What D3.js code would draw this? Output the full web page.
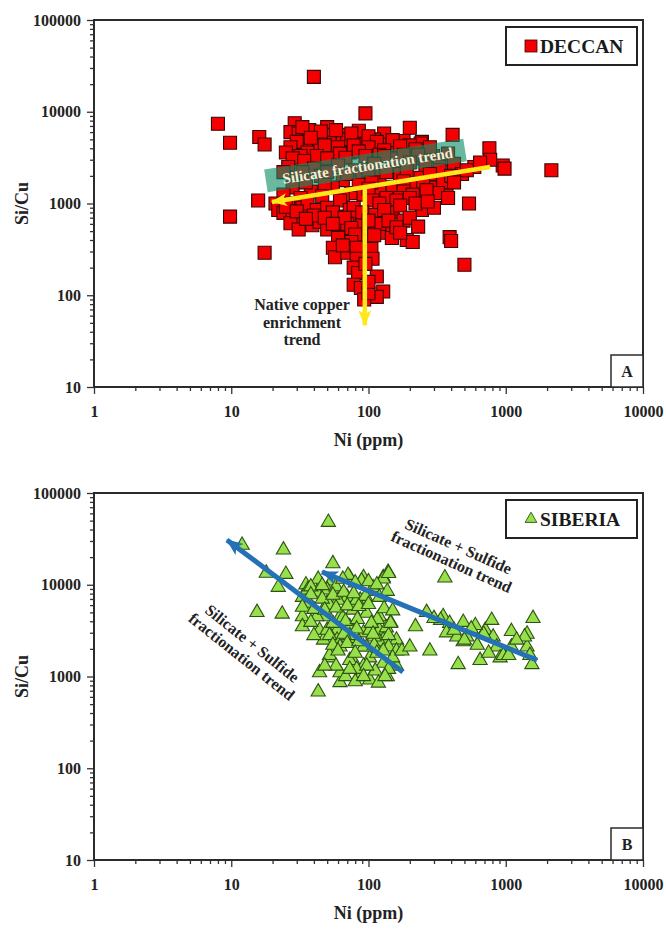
<!DOCTYPE html>
<html>
<head>
<meta charset="utf-8">
<script src="https://cdn.jsdelivr.net/npm/d3@7"></script>
<style>
  body { margin: 0; background: #fff; }
  svg { display: block; }
  text { font-family: "Liberation Serif", "Times New Roman", serif; font-weight: bold; }
</style>
</head>
<body>
<svg id="chart" width="666" height="929"></svg>
<script>
// ---- Data ----------------------------------------------------------------
const niTicks = [1, 10, 100, 1000, 10000];
const ratioTicks = [10, 100, 1000, 10000, 100000];

// Deccan basalts: [Ni (ppm), Si/Cu]
const deccanPoints = [
  [40,24000],[8,7400],[9.8,4600],[16,5300],[17.5,4400],[9.8,720],[15.7,1080],[17.5,290],
  [2150,2300],[540,1000],[500,215],[390,430],[400,390],[760,4000],[950,2600],[980,2400],[770,3000],
  [200,6700],[410,5600],[95,9600],[130,5800],
  [29,7500],[27,6000],[31,5800],[37,6300],[50,6800],[50,5600],[62,5600],[65,4600],[52,4600],[42,4700],
  [35,4700],[30,4700],[82,5300],[92,4400],[44,3900],[27,4100],[36,3600],[55,3600],[73,3600],[107,3800],
  [143,4300],[160,3800],[245,4700],[265,3900],[295,3300],[140,4100],[240,4500],[70,5000],[110,5000],
  [180,4800],[85,6200],[120,4400],
  [33,6800],[45,6100],[58,6300],[75,5800],[100,5400],[115,4700],[150,4900],[200,4300],[38,5200],[48,4300],
  [60,4100],[78,4300],[100,4100],[130,3800],[170,4200],[220,3900],[280,4100],[25,3600],[32,3300],[42,3300],
  [62,3500],[85,3700],[120,3400],[155,3100],[210,3100],[330,3000],[380,3500],
  [28,3100],[34,2900],[50,3100],[68,3150],[95,3300],[130,3300],[180,3400],[230,3400],[26,2500],[40,2400],
  [60,2600],[80,2300],[110,2700],[150,2500],[200,2800],[260,2600],[330,2300],[420,2700],[590,2500],
  [30,1900],[45,2000],[65,1800],[90,1900],[120,2000],[170,2100],[240,1900],[300,1800],[370,1450],
  [28,1500],[38,1350],[55,1500],[75,1300],[150,1500],[120,1400],[210,1600],[280,1500],[480,2100],[350,1700],
  [24,2200],[33,2200],[50,2200],[70,2100],[100,2300],[135,2200],[190,2300],[280,2100],[400,2000],[520,2300],
  [650,2800],[35,1700],[48,1600],[85,1600],[105,1700],[180,1750],[250,1650],[420,1700],[24,1250],[32,1150],
  [46,1200],[65,1200],[92,1250],[100,1450],[180,1350],[240,1200],[320,1300],[380,1150],
  [26,1000],[33,900],[44,850],[62,1080],[73,850],[107,1080],[135,1150],[170,1150],[210,1250],[250,920],
  [265,1400],[21,1000],[22,850],[36,1000],[42,850],[50,900],[78,900],[120,1000],[160,1080],[200,1150],
  [245,850],[24,790],[28,720],[33,610],[39,580],[44,630],[50,520],[58,720],[62,480],[65,420],[97,520],
  [92,400],[128,480],[148,420],[190,400],[210,380],[27,610],[31,520],[80,700],[110,750],[150,800],
  [180,650],[300,900],[90,600],[70,600],[120,600],
  [25,920],[30,820],[40,740],[55,800],[67,700],[90,800],[130,850],[170,950],[220,1000],[270,1050],
  [35,680],[48,700],[55,600],[75,540],[100,650],[140,650],[160,550],[200,700],[60,420],[80,460],
  [110,450],[75,380],[170,480],[230,560],
  [55,330],[57,260],[70,290],[82,330],[82,250],[78,200],[84,175],[115,160],[78,130],[88,120],[128,110],
  [115,96],[93,90],[100,105],[105,320],[107,250],[65,350],[95,220],[100,140]
];

// Siberian traps: [Ni (ppm), Si/Cu]
const siberiaPoints = [
  [12,27000],[51,48000],[24,24000],[18,13400],[25,13000],[22,9400],[55,17000],[43,11500],[35,10000],
  [42,8300],[54,11000],[73,12000],[92,12000],[128,12000],[139,13700],[15.4,5000],[23.5,4800],[33,4500],
  [37,6300],[33,7300],[50,6300],[70,7300],[87,6800],[105,8500],[137,8500],[47,4500],[62,4500],[77,5300],
  [97,4900],[120,4500],[145,3900],[44,3200],[59,3200],[73,3500],[92,3000],[120,3200],[47,2500],[59,2500],
  [77,2600],[97,2100],[128,2500],[160,2500],[52,1600],[77,1500],[102,1600],[128,1400],[160,1300],[44,1100],
  [62,860],[87,1000],[102,920],[137,1000],[43,680],[36,8800],[50,8800],[60,6800],[82,6800],[108,9300],
  [33,5700],[52,6000],[42,4500],[65,4400],[116,4200],[33,3500],[50,3200],[73,2800],[102,3200],[62,2100],
  [92,2100],[120,2400],[52,1700],[73,1500],[62,1100],[92,1300],[71,12700],[89,11000],[128,11600],
  [38,9500],[46,9800],[58,9500],[65,11500],[80,10500],[100,10800],[115,10000],[38,7800],[46,7000],[55,7700],
  [66,8300],[78,8000],[95,7500],[120,7300],[40,5400],[48,5300],[58,5600],[70,5900],[85,5800],[100,6100],
  [130,5500],[150,5200],[38,3900],[55,3800],[68,4000],[83,4200],[105,3800],[135,3400],[40,2800],[52,2800],
  [66,2900],[82,3300],[110,2700],[140,2800],[55,2200],[70,2300],[85,2400],[110,2200],[140,2100],[160,1900],
  [60,1900],[80,1800],[115,1800],[150,1600],[58,1300],[82,1200],[112,1150],[140,1200],[48,1300],[68,1000],
  [118,850],[80,880],
  [140,13300],[108,2900],[145,3800],[175,1900],[200,2100],[128,1900],[97,1300],[132,1000],[73,1200],[92,1000],
  [360,11900],[220,3500],[265,5000],[280,1900],[350,4500],[390,3800],[370,3000],[450,1350],[490,3900],
  [520,2700],[490,2400],[650,1500],[710,3200],[790,4100],[810,2700],[860,2100],[910,1600],[1100,3100],
  [1100,2100],[1430,2900],[1430,2100],[1580,4300],[1500,1700],[1550,1350],[335,4100],[440,2700],[500,2500],
  [690,2900],[1370,2700],[960,1700],[300,4300],[600,3600],[560,3300],[750,1800],[1200,2500],[1050,1700],
  [420,3200],[620,2200]
];

// Trend arrows, each [from, to] in [Ni, Si/Cu]; the head sits at "to"
const deccanSilicateTrend = [[768, 2500], [19.8, 1040]];
const deccanCopperTrend   = [[94, 1510], [94, 47]];
const deccanTrendBand     = [[17.9, 1760], [505, 3830]];
const siberiaTrendLow     = [[178, 1120], [9.3, 30800]];
const siberiaTrendHigh    = [[1690, 1510], [45.8, 13800]];

// ---- Layout --------------------------------------------------------------
const svg = d3.select("#chart");
const left = 94, right = 643;
const x = d3.scaleLog().domain([1, 10000]).range([left, right]);
const isPow10 = v => Math.abs(Math.log10(v) - Math.round(Math.log10(v))) < 1e-9;

const defs = svg.append("defs");
function arrowMarker(id, color, len, wid) {
  defs.append("marker")
    .attr("id", id).attr("markerUnits", "userSpaceOnUse")
    .attr("viewBox", `0 0 ${len} ${wid}`)
    .attr("refX", len - 1).attr("refY", wid / 2)
    .attr("markerWidth", len).attr("markerHeight", wid)
    .attr("orient", "auto")
    .append("path")
    .attr("d", `M0,0 L${len},${wid / 2} L0,${wid} L${len * 0.25},${wid / 2} Z`)
    .attr("fill", color);
}
arrowMarker("headYellow", "#ffe81a", 16, 13);
arrowMarker("headBlue", "#2471b5", 17, 14);

function panel(top, bottom) {
  const y = d3.scaleLog().domain([10, 100000]).range([bottom, top]);
  const g = svg.append("g");

  const xMinor = x.ticks().filter(v => !isPow10(v));
  const yMinor = y.ticks().filter(v => !isPow10(v));

  g.append("g").attr("transform", `translate(0,${bottom})`)
    .call(d3.axisBottom(x).tickValues(xMinor).tickSize(4).tickFormat(""));
  g.append("g").attr("class", "lab").attr("transform", `translate(0,${bottom})`)
    .call(d3.axisBottom(x).tickValues(niTicks).tickSize(7).tickPadding(12).tickFormat(d3.format("d")));
  g.append("g").attr("transform", `translate(${left},0)`)
    .call(d3.axisLeft(y).tickValues(yMinor).tickSize(4).tickFormat(""));
  g.append("g").attr("class", "lab").attr("transform", `translate(${left},0)`)
    .call(d3.axisLeft(y).tickValues(ratioTicks).tickSize(7).tickPadding(6).tickFormat(d3.format("d")));

  g.selectAll(".domain").remove();
  g.selectAll(".tick line").attr("stroke", "#333").attr("stroke-width", 1.3);
  g.selectAll(".lab .tick text").attr("font-size", 16).attr("fill", "#222")
    .style("font-family", '"Liberation Serif", serif').style("font-weight", "bold");

  g.append("text").attr("x", (left + right) / 2).attr("y", bottom + 59)
    .attr("text-anchor", "middle").attr("font-size", 18).attr("fill", "#222")
    .text("Ni (ppm)");
  g.append("text")
    .attr("transform", `translate(28,${(top + bottom) / 2}) rotate(-90)`)
    .attr("text-anchor", "middle").attr("font-size", 18).attr("fill", "#222")
    .text("Si/Cu");

  const plot = svg.append("g");
  return { y, g, plot, top, bottom };
}

function frame(p, letter) {
  svg.append("rect").attr("x", left).attr("y", p.top)
    .attr("width", right - left).attr("height", p.bottom - p.top)
    .attr("fill", "none").attr("stroke", "#2b2b2b").attr("stroke-width", 2);
  svg.append("rect").attr("x", right - 32).attr("y", p.bottom - 32)
    .attr("width", 32).attr("height", 32)
    .attr("fill", "#fff").attr("stroke", "#2b2b2b").attr("stroke-width", 1.5);
  svg.append("text").attr("x", right - 16).attr("y", p.bottom - 10)
    .attr("text-anchor", "middle").attr("font-size", 16).attr("fill", "#222").text(letter);
}

function legend(p, label, drawMarker) {
  const lg = svg.append("g");
  lg.append("rect").attr("x", 506).attr("y", p.top + 7).attr("width", 131).attr("height", 38)
    .attr("fill", "#fff").attr("stroke", "#222").attr("stroke-width", 2);
  drawMarker(lg, 531, p.top + 26);
  lg.append("text").attr("x", 540).attr("y", p.top + 33)
    .attr("font-size", 19.5).attr("fill", "#1a1a1a").text(label);
}

// ---- Panel A : Deccan ----------------------------------------------------
const A = panel(20, 387);
const square = d3.symbol().type(d3.symbolSquare).size(169);
A.plot.selectAll("path.dec").data(deccanPoints).join("path")
  .attr("class", "dec")
  .attr("transform", d => `translate(${x(d[0])},${A.y(d[1])})`)
  .attr("d", square)
  .attr("fill", "#f40000").attr("stroke", "#3a0505").attr("stroke-width", 1.1);

// translucent band carrying the silicate trend label
{
  const [p0, p1] = deccanTrendBand;
  const x0 = x(p0[0]), y0 = A.y(p0[1]), x1 = x(p1[0]), y1 = A.y(p1[1]);
  const ang = Math.atan2(y1 - y0, x1 - x0) * 180 / Math.PI;
  const len = Math.hypot(x1 - x0, y1 - y0);
  const bg = A.plot.append("g").attr("transform", `translate(${x0},${y0}) rotate(${ang})`);
  bg.append("rect").attr("x", 0).attr("y", -11.5).attr("width", len).attr("height", 23)
    .attr("fill", "rgb(15,140,100)").attr("fill-opacity", 0.62);
  bg.append("text").attr("x", len / 2 + 2).attr("y", 5.5).attr("text-anchor", "middle")
    .attr("font-size", 15).attr("fill", "#f4f1dc").text("Silicate fractionation trend");
}

const line = d3.line();
function trend(p, pts, color, width, marker) {
  p.plot.append("path")
    .attr("d", line(pts.map(d => [x(d[0]), p.y(d[1])])))
    .attr("fill", "none").attr("stroke", color).attr("stroke-width", width)
    .attr("marker-end", `url(#${marker})`);
}
trend(A, deccanSilicateTrend, "#ffe81a", 4.5, "headYellow");
trend(A, deccanCopperTrend, "#ffe81a", 4.5, "headYellow");

A.plot.append("text").attr("x", 302).attr("y", 310).attr("text-anchor", "middle")
  .attr("font-size", 16).attr("fill", "#222")
  .selectAll("tspan").data(["Native copper", "enrichment", "trend"]).join("tspan")
  .attr("x", 302).attr("dy", (d, i) => i ? 17.5 : 0).text(d => d);

frame(A, "A");
legend(A, "DECCAN", (g, cx, cy) => g.append("rect")
  .attr("x", cx - 6).attr("y", cy - 6).attr("width", 12).attr("height", 12)
  .attr("fill", "#f40000").attr("stroke", "#3a0505").attr("stroke-width", 0.8));

// ---- Panel B : Siberia ---------------------------------------------------
const B = panel(493, 860);
const tri = d3.symbol().type(d3.symbolTriangle).size(88);
B.plot.selectAll("path.sib").data(siberiaPoints).join("path")
  .attr("class", "sib")
  .attr("transform", d => `translate(${x(d[0])},${B.y(d[1])})`)
  .attr("d", tri)
  .attr("fill", "#98e04a").attr("stroke", "#2d5314").attr("stroke-width", 1.1);

trend(B, siberiaTrendLow, "#2471b5", 5, "headBlue");
trend(B, siberiaTrendHigh, "#2471b5", 5, "headBlue");

function tiltedLabel(cx, cy, ang, lines) {
  const g = B.plot.append("g").attr("transform", `translate(${cx},${cy}) rotate(${ang})`);
  g.selectAll("text").data(lines).join("text")
    .attr("x", 0).attr("y", (d, i) => (i - 0.5) * 17 + 5.5)
    .attr("text-anchor", "middle").attr("font-size", 16).attr("fill", "#222")
    .text(d => d);
}
tiltedLabel(455, 554, 24, ["Silicate + Sulfide", "fractionation trend"]);
tiltedLabel(247, 650, 38.5, ["Silicate + Sulfide", "fractionation trend"]);

frame(B, "B");
legend(B, "SIBERIA", (g, cx, cy) => g.append("path")
  .attr("transform", `translate(${cx},${cy})`)
  .attr("d", d3.symbol().type(d3.symbolTriangle).size(60))
  .attr("fill", "#98e04a").attr("stroke", "#2d5314").attr("stroke-width", 0.9));
</script>
</body>
</html>
